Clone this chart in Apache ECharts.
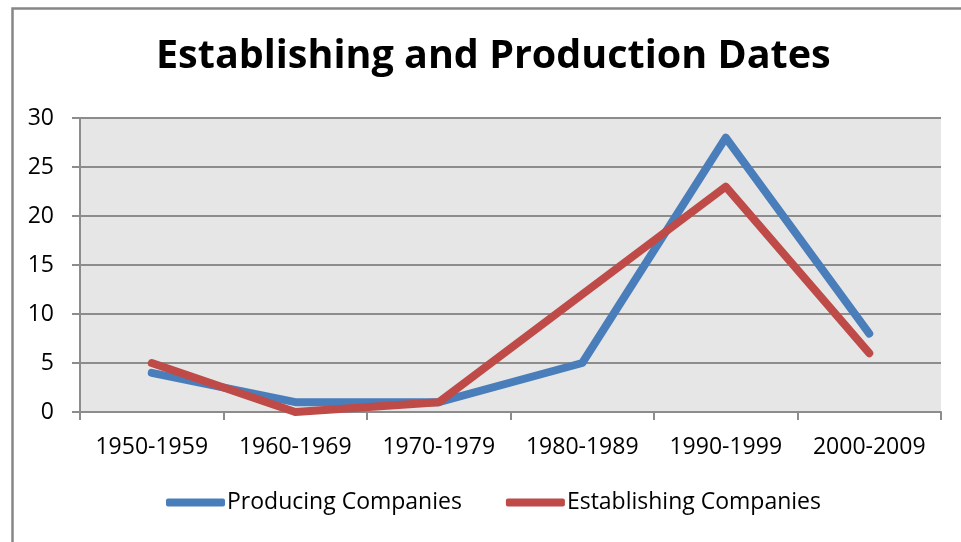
<!DOCTYPE html>
<html>
<head>
<meta charset="utf-8">
<script src="https://cdn.jsdelivr.net/npm/echarts@6/dist/echarts.min.js"></script>
<style>
  html, body { margin: 0; padding: 0; background: #ffffff; }
  #chart { width: 961px; height: 542px; }
</style>
</head>
<body>
<div id="chart"></div>
<script>
// Decades on the category axis
const decades = ['1950-1959', '1960-1969', '1970-1979', '1980-1989', '1990-1999', '2000-2009'];
// Number of companies per decade
const producing = [4, 1, 1, 5, 28, 8];
const establishing = [5, 0, 1, 12, 23, 6];
// Value axis range
const yMin = 0, yMax = 30, yStep = 5;

const FONT = '"Open Sans", "Noto Sans", sans-serif';
const BLUE = '#4a7ebb';
const RED = '#be4b48';
const GRID_GRAY = '#8c8c8c';

const chart = echarts.init(document.getElementById('chart'), null, { renderer: 'canvas' });

function lineSeries(name, data, color) {
  return {
    name: name,
    type: 'line',
    data: data,
    showSymbol: false,
    symbol: 'none',
    color: color,
    lineStyle: { color: color, width: 8, cap: 'round', join: 'round' },
    emphasis: { disabled: true },
    animation: false
  };
}

chart.setOption({
  animation: false,
  backgroundColor: '#ffffff',
  graphic: [{
    type: 'rect',
    left: 10, top: 6,
    shape: { x: 0, y: 0, width: 960, height: 560 },
    style: { fill: 'none', stroke: '#878787', lineWidth: 2.5 },
    silent: true, z: 100
  }],
  title: {
    text: 'Establishing and Production Dates',
    left: 151,
    top: 32,
    padding: 5,
    textStyle: { fontFamily: FONT, fontWeight: 'bold', fontSize: 39.5, color: '#000000' }
  },
  legend: {
    bottom: 23,
    left: 161,
    padding: 5,
    icon: 'roundRect',
    itemWidth: 59,
    itemHeight: 8,
    itemGap: 44,
    textStyle: { fontFamily: FONT, fontSize: 23, color: '#000000', padding: [0, 0, 0, -3] },
    data: ['Producing Companies', 'Establishing Companies']
  },
  grid: {
    left: 80, right: 20, top: 118, bottom: 130,
    show: true,
    backgroundColor: '#e6e6e6',
    borderWidth: 0
  },
  xAxis: {
    type: 'category',
    data: decades,
    boundaryGap: true,
    axisLine: { show: true, lineStyle: { color: GRID_GRAY, width: 2 } },
    axisTick: { show: true, interval: 0, alignWithLabel: false, length: 8, lineStyle: { color: GRID_GRAY, width: 2 } },
    axisLabel: { interval: 0, hideOverlap: false, fontFamily: FONT, fontSize: 23, color: '#000000', margin: 24 },
    splitLine: { show: false }
  },
  yAxis: {
    type: 'value',
    min: yMin, max: yMax, interval: yStep,
    axisLine: { show: true, lineStyle: { color: GRID_GRAY, width: 2 } },
    axisTick: { show: true, length: 8, lineStyle: { color: GRID_GRAY, width: 2 } },
    axisLabel: { fontFamily: FONT, fontSize: 23, color: '#000000', margin: 26 },
    splitLine: { show: true, lineStyle: { color: GRID_GRAY, width: 2 } }
  },
  series: [
    lineSeries('Producing Companies', producing, BLUE),
    lineSeries('Establishing Companies', establishing, RED)
  ]
});
</script>
</body>
</html>
